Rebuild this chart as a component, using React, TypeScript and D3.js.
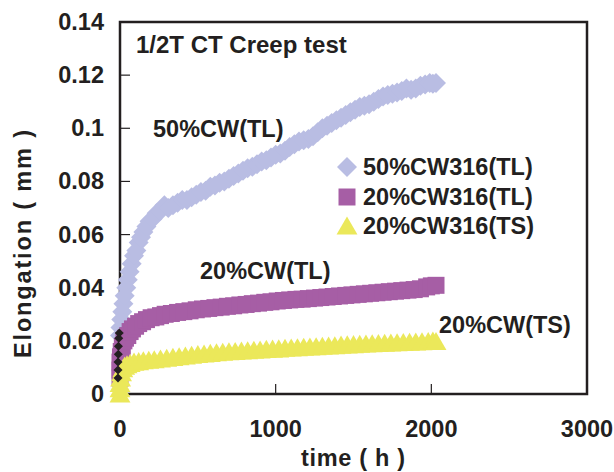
import React from 'react';
import * as d3 from 'd3';

// ---- data ----
const xTicks = [0, 1000, 2000, 3000];
const yTicks = [0, 0.02, 0.04, 0.06, 0.08, 0.1, 0.12, 0.14];
const yTickLabels = ['0', '0.02', '0.04', '0.06', '0.08', '0.1', '0.12', '0.14'];

const seriesNames = ['50%CW316(TL)', '20%CW316(TL)', '20%CW316(TS)'];

const cw50TL: [number, number][] = [
  [0, 0.022], [3, 0.025], [8, 0.028], [15, 0.031], [22, 0.034], [30, 0.037], [40, 0.040],
  [50, 0.043], [62, 0.046], [75, 0.049], [90, 0.052], [105, 0.054], [120, 0.057], [135, 0.059],
  [150, 0.061], [170, 0.063], [190, 0.065], [210, 0.066], [235, 0.068], [260, 0.069],
  [285, 0.071], [310, 0.070], [340, 0.071], [370, 0.072], [400, 0.073], [430, 0.073],
  [460, 0.074], [490, 0.075], [520, 0.076], [550, 0.0765], [580, 0.078], [610, 0.0785],
  [640, 0.0795], [670, 0.080], [700, 0.081], [730, 0.082], [760, 0.083], [790, 0.084],
  [820, 0.085], [850, 0.0855], [880, 0.0865], [910, 0.0875], [940, 0.088], [970, 0.089],
  [1000, 0.090], [1030, 0.0905], [1060, 0.0915], [1090, 0.093], [1120, 0.094], [1150, 0.095],
  [1180, 0.0955], [1210, 0.096], [1240, 0.097], [1270, 0.0985], [1300, 0.100], [1330, 0.101],
  [1360, 0.102], [1390, 0.103], [1420, 0.104], [1450, 0.105], [1480, 0.106], [1510, 0.107],
  [1540, 0.108], [1570, 0.1085], [1600, 0.109], [1630, 0.110], [1660, 0.111], [1690, 0.112],
  [1720, 0.1125], [1750, 0.113], [1780, 0.1135], [1810, 0.114], [1840, 0.115], [1870, 0.1145],
  [1900, 0.115], [1930, 0.116], [1960, 0.1165], [1990, 0.117], [2010, 0.1168], [2030, 0.117]
];

const cw20TL: [number, number][] = [
  [0, 0.006], [0, 0.009], [0, 0.012], [3, 0.014], [8, 0.016], [15, 0.018], [25, 0.020], [35, 0.021],
  [50, 0.022], [65, 0.0235], [80, 0.0245], [100, 0.0255], [120, 0.0265], [145, 0.0272],
  [170, 0.028], [200, 0.0287], [230, 0.029], [260, 0.0295], [290, 0.030], [330, 0.0303],
  [370, 0.0307], [410, 0.031], [450, 0.0313], [490, 0.0317], [530, 0.032], [570, 0.0322],
  [610, 0.0325], [650, 0.0327], [690, 0.033], [730, 0.0332], [770, 0.0335], [810, 0.0337],
  [850, 0.034], [890, 0.0342], [930, 0.0345], [970, 0.0347], [1010, 0.035], [1050, 0.0352],
  [1090, 0.0354], [1130, 0.0356], [1170, 0.0357], [1210, 0.0359], [1250, 0.0361],
  [1290, 0.0363], [1330, 0.0365], [1370, 0.0367], [1410, 0.0369], [1450, 0.0371],
  [1490, 0.0373], [1530, 0.0375], [1570, 0.0377], [1610, 0.0379], [1650, 0.0381],
  [1690, 0.0383], [1730, 0.0385], [1770, 0.0387], [1810, 0.0389], [1850, 0.0391],
  [1890, 0.0393], [1930, 0.0396], [1970, 0.0403], [2000, 0.0407], [2030, 0.0409]
];

const cw20TS: [number, number][] = [
  [0, 0.000], [0, 0.002], [0, 0.004], [4, 0.006], [10, 0.008], [18, 0.0095], [30, 0.0105],
  [45, 0.011], [65, 0.0115], [90, 0.012], [120, 0.0122], [150, 0.0125], [185, 0.0127],
  [220, 0.0129], [260, 0.0132], [300, 0.0135], [340, 0.0138], [380, 0.014], [420, 0.0143],
  [460, 0.0146], [500, 0.0149], [540, 0.0151], [580, 0.0153], [620, 0.0155], [660, 0.0157],
  [700, 0.0159], [740, 0.016], [780, 0.0162], [820, 0.0163], [860, 0.0165], [900, 0.0166],
  [940, 0.0168], [980, 0.0169], [1020, 0.017], [1060, 0.0172], [1100, 0.0173], [1140, 0.0174],
  [1180, 0.0176], [1220, 0.0177], [1260, 0.0178], [1300, 0.018], [1340, 0.0181],
  [1380, 0.0182], [1420, 0.0184], [1460, 0.0185], [1500, 0.0186], [1540, 0.0187],
  [1580, 0.0188], [1620, 0.0189], [1660, 0.019], [1700, 0.0191], [1740, 0.0192],
  [1780, 0.0193], [1820, 0.0194], [1860, 0.0195], [1900, 0.0196], [1940, 0.0197],
  [1980, 0.0198], [2010, 0.0199], [2030, 0.0198]
];

const initialBlack: [number, number][] = [
  [0, 0.006], [0, 0.009], [0, 0.012], [2, 0.015], [3, 0.018], [5, 0.021], [8, 0.023]
];

// ---- styles ----
const W = 614;
const H = 472;
const plot = { left: 120, right: 587, top: 22, bottom: 394 };
const textColor = '#231f20';
const font = "'Liberation Sans', Arial, Helvetica, sans-serif";
const colors = { lav: '#b9bde3', pur: '#a65ea5', yel: '#ebe85a' };

const diamond = (cx: number, cy: number, r: number) =>
  `M${cx},${cy - r}L${cx + r},${cy}L${cx},${cy + r}L${cx - r},${cy}Z`;
const square = (cx: number, cy: number, r: number) =>
  `M${cx - r},${cy - r}H${cx + r}V${cy + r}H${cx - r}Z`;
const triangle = (cx: number, cy: number, r: number) =>
  `M${cx},${cy - r}L${cx + r * 1.1},${cy + r * 0.9}L${cx - r * 1.1},${cy + r * 0.9}Z`;

export default function App() {
  const x = d3.scaleLinear().domain([0, 3000]).range([plot.left, plot.right]);
  const y = d3.scaleLinear().domain([0, 0.14]).range([plot.bottom, plot.top]);

  const txt = {
    fontFamily: font,
    fontWeight: 700,
    fontSize: 23.5,
    fill: textColor,
  } as const;

  return (
    <svg width={W} height={H} style={{ position: 'absolute', left: 0, top: 0, background: '#fff' }}>
      <rect x={0} y={0} width={W} height={H} fill="#fff" />
      {/* frame */}
      <rect
        x={plot.left}
        y={plot.top}
        width={plot.right - plot.left}
        height={plot.bottom - plot.top}
        fill="none"
        stroke={textColor}
        strokeWidth={2.5}
      />
      {/* ticks */}
      {yTicks.map((t) => (
        <line key={'yt' + t} x1={plot.left} x2={plot.left + 10} y1={y(t)} y2={y(t)} stroke={textColor} strokeWidth={1.2} />
      ))}
      {xTicks.map((t) => (
        <line key={'xt' + t} x1={x(t)} x2={x(t)} y1={plot.bottom} y2={plot.bottom - 10} stroke={textColor} strokeWidth={1.2} />
      ))}
      {/* series */}
      <g fill={colors.lav}>
        {cw50TL.map((d, i) => (
          <path key={'a' + i} d={diamond(x(d[0]), y(d[1]), 10)} />
        ))}
      </g>
      <g fill={colors.pur}>
        {cw20TL.map((d, i) => (
          <path key={'b' + i} d={square(x(d[0]), y(d[1]), 8.5)} />
        ))}
      </g>
      <g fill={colors.yel}>
        {cw20TS.map((d, i) => (
          <path key={'c' + i} d={triangle(x(d[0]), y(d[1]), 9.5)} />
        ))}
      </g>
      <g fill={textColor}>
        {initialBlack.map((d, i) => (
          <path key={'k' + i} d={diamond(x(d[0]) - 2, y(d[1]), 4.5)} />
        ))}
      </g>
      {/* tick labels */}
      {yTicks.map((t, i) => (
        <text key={'yl' + t} x={104} y={y(t) + 8} textAnchor="end" {...txt}>
          {yTickLabels[i]}
        </text>
      ))}
      {xTicks.map((t) => (
        <text key={'xl' + t} x={x(t)} y={437} textAnchor="middle" {...txt}>
          {String(t)}
        </text>
      ))}
      {/* axis titles */}
      <text x={353} y={466} textAnchor="middle" {...txt} textLength={104} lengthAdjust="spacing">time ( h )</text>
      <text transform="translate(31,244) rotate(-90)" textAnchor="middle" {...txt} textLength={228} lengthAdjust="spacing">Elongation ( mm )</text>
      {/* annotations */}
      <text x={136} y={53} {...txt} fontSize={24}>1/2T CT Creep test</text>
      <text x={153} y={137} {...txt}>50%CW(TL)</text>
      <text x={200} y={279} {...txt}>20%CW(TL)</text>
      <text x={439} y={333} {...txt}>20%CW(TS)</text>
      {/* legend */}
      <path d={diamond(347, 167, 10)} fill={colors.lav} />
      <path d={square(347, 197, 8.5)} fill={colors.pur} />
      <path d={triangle(347, 226, 9.5)} fill={colors.yel} />
      <text x={363} y={175} {...txt}>{seriesNames[0]}</text>
      <text x={363} y={205} {...txt}>{seriesNames[1]}</text>
      <text x={363} y={234} {...txt}>{seriesNames[2]}</text>
    </svg>
  );
}
